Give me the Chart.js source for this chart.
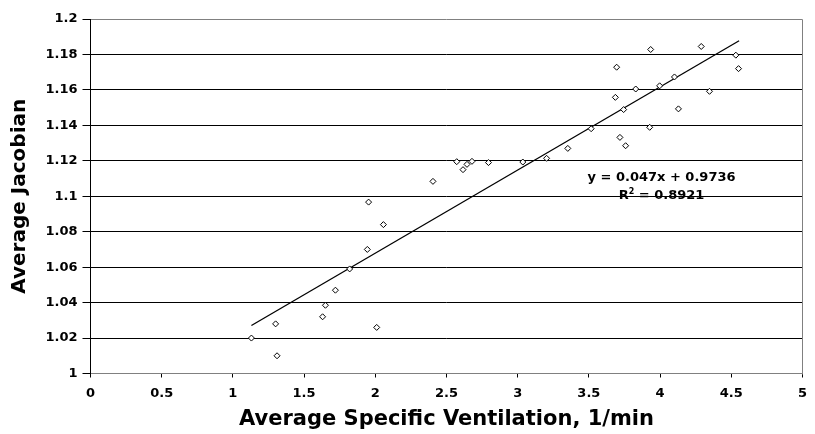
<!DOCTYPE html>
<html>
<head>
<meta charset="utf-8">
<script src="https://cdn.jsdelivr.net/npm/chart.js@4.4.0/dist/chart.umd.min.js"></script>
<style>
  html, body { margin: 0; padding: 0; background: #fff; }
  #wrap { width: 815px; height: 434px; position: relative; }
</style>
</head>
<body>
<div id="wrap"><canvas id="c" width="815" height="434"></canvas></div>
<script>
// ---- data ----
const specificVentilation = [
  1.13, 1.30, 1.31, 1.63, 1.65, 1.72, 1.82, 1.944, 1.953, 2.01,
  2.057, 2.405, 2.572, 2.616, 2.644, 2.679, 2.795, 3.036, 3.203, 3.352,
  3.516, 3.686, 3.695, 3.718, 3.744, 3.758, 3.829, 3.927, 3.934, 3.997,
  4.101, 4.129, 4.289, 4.347, 4.532, 4.551
];
const averageJacobian = [
  1.020, 1.028, 1.010, 1.032, 1.0385, 1.047, 1.059, 1.070, 1.0967, 1.026,
  1.084, 1.1084, 1.1195, 1.115, 1.118, 1.1197, 1.119, 1.1193, 1.1214, 1.127,
  1.1381, 1.1558, 1.1728, 1.1332, 1.1489, 1.1285, 1.1605, 1.1389, 1.1828, 1.1623,
  1.1673, 1.1493, 1.1845, 1.1592, 1.1796, 1.172
];
// linear trend line end points (as drawn in the picture)
const trendX = [1.13, 4.555];
const trendY = [1.0271, 1.1877];

const xTicks = [0, 0.5, 1, 1.5, 2, 2.5, 3, 3.5, 4, 4.5, 5];
const yTicks = [1, 1.02, 1.04, 1.06, 1.08, 1.1, 1.12, 1.14, 1.16, 1.18, 1.2];

const xTitle = 'Average Specific Ventilation, 1/min';
const yTitle = 'Average Jacobian';
const equationText = 'y = 0.047x + 0.9736';
const rSquaredText = '0.8921';
// anchor of the equation label, in data units
const labelAnchor = [4.01, 1.1088];

// ---- chart ----
const FONT = 'DejaVu Sans';

const borderPlugin = {
  id: 'frame',
  afterDatasetsDraw(chart) {
    const { ctx, chartArea } = chart;
    ctx.save();
    ctx.strokeStyle = '#808080';
    ctx.lineWidth = 1;
    const r = Math.round(chartArea.right) + 0.5;
    ctx.beginPath();
    ctx.moveTo(r, Math.round(chartArea.top) + 0.5);
    ctx.lineTo(r, Math.round(chartArea.bottom) + 0.5);
    ctx.stroke();
    ctx.restore();
  },
  afterDraw(chart) {
    const { ctx, scales } = chart;
    const cx = scales.x.getPixelForValue(labelAnchor[0]);
    const by = scales.y.getPixelForValue(labelAnchor[1]);
    ctx.save();
    ctx.fillStyle = '#000';
    ctx.textBaseline = 'alphabetic';
    const fMain = 'bold 13px "' + FONT + '"';
    const fSup = 'bold 8px "' + FONT + '"';
    ctx.font = fMain;
    ctx.textAlign = 'center';
    ctx.fillText(equationText, cx, by);
    // R² line
    const rest = ' = ' + rSquaredText;
    ctx.font = fMain;
    const wR = ctx.measureText('R').width;
    const wRest = ctx.measureText(rest).width;
    ctx.font = fSup;
    const w2 = ctx.measureText('2').width;
    let x = cx - (wR + w2 + wRest) / 2;
    const by2 = by + 18.5;
    ctx.textAlign = 'left';
    ctx.font = fMain; ctx.fillText('R', x, by2); x += wR;
    ctx.font = fSup; ctx.fillText('2', x, by2 - 5.5); x += w2;
    ctx.font = fMain; ctx.fillText(rest, x, by2);
    ctx.restore();
  }
};

const points = specificVentilation.map((x, i) => ({ x: x, y: averageJacobian[i] }));
const trend = trendX.map((x, i) => ({ x: x, y: trendY[i] }));

new Chart(document.getElementById('c').getContext('2d'), {
  type: 'scatter',
  data: {
    datasets: [
      {
        label: 'Average Jacobian',
        data: points,
        pointStyle: 'rectRot',
        pointRadius: 3,
        borderColor: '#000',
        backgroundColor: '#fff',
        borderWidth: 1,
        order: 1
      },
      {
        label: 'Linear trend',
        data: trend,
        showLine: true,
        borderColor: '#000',
        borderWidth: 1.3,
        pointRadius: 0,
        fill: false,
        order: 2
      }
    ]
  },
  options: {
    responsive: false,
    animation: false,
    devicePixelRatio: 1,
    layout: { padding: { top: 19, right: 5, left: 0, bottom: 0 } },
    plugins: { legend: { display: false }, tooltip: { enabled: false } },
    scales: {
      x: {
        type: 'linear',
        min: 0, max: 5,
        afterBuildTicks: s => { s.ticks = xTicks.map(v => ({ value: v })); },
        ticks: {
          font: { family: FONT, weight: 'bold', size: 13 },
          color: '#000', padding: 8, maxRotation: 0, autoSkip: false,
          callback: v => String(v)
        },
        grid: { drawOnChartArea: false, drawTicks: true, tickLength: 4, tickColor: '#000', lineWidth: 1 },
        border: { color: '#808080', width: 1 },
        title: {
          display: true, text: xTitle, color: '#000',
          font: { family: FONT, weight: 'bold', size: 21 },
          padding: { top: 0, bottom: 2 }
        },
        afterFit: s => { s.height = 60.5; }
      },
      y: {
        type: 'linear',
        min: 1, max: 1.2,
        afterBuildTicks: s => { s.ticks = yTicks.map(v => ({ value: v })); },
        ticks: {
          font: { family: FONT, weight: 'bold', size: 13 },
          color: '#000', padding: 5,
          callback: v => String(v)
        },
        grid: {
          color: c => (c.tick && c.tick.value === 1.2) ? '#808080' : '#000',
          lineWidth: 1, drawTicks: true, tickLength: 8, tickColor: '#000'
        },
        border: { color: '#000', width: 1 },
        title: {
          display: true, text: yTitle, color: '#000',
          font: { family: FONT, weight: 'bold', size: 20 },
          padding: { top: 8, bottom: 0 }
        },
        afterFit: s => { s.width = 90.5; }
      }
    }
  },
  plugins: [borderPlugin]
});
</script>
</body>
</html>
